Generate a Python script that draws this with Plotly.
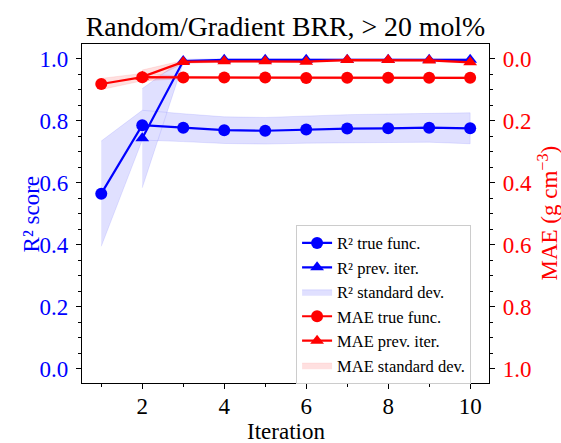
import plotly.graph_objects as go

# Iterations
iterations = [1, 2, 3, 4, 5, 6, 7, 8, 9, 10]

# R² against the true function, and its spread
r2_true = [0.565, 0.786, 0.778, 0.770, 0.768, 0.772, 0.775, 0.776, 0.778, 0.776]
r2_true_std = [0.17, 0.048, 0.045, 0.043, 0.043, 0.044, 0.045, 0.046, 0.047, 0.050]

# R² against the previous iteration (starts at iteration 2)
prev_iterations = [2, 3, 4, 5, 6, 7, 8, 9, 10]
r2_prev = [0.744, 0.993, 0.997, 0.997, 0.997, 0.997, 0.997, 0.997, 0.997]
r2_prev_std = [0.16, 0.006, 0.003, 0.003, 0.003, 0.003, 0.003, 0.003, 0.003]

# MAE (g cm^-3) against the true function and the previous iteration
mae_true = [0.081, 0.059, 0.060, 0.060, 0.060, 0.062, 0.061, 0.061, 0.061, 0.061]
mae_true_std = [0.018, 0.012, 0.004, 0.003, 0.003, 0.003, 0.003, 0.003, 0.003, 0.003]
mae_prev = [0.058, 0.010, 0.008, 0.008, 0.009, 0.004, 0.004, 0.005, 0.011]
mae_prev_std = [0.022, 0.005, 0.003, 0.003, 0.003, 0.003, 0.003, 0.003, 0.003]

x_ticks = [2, 4, 6, 8, 10]
y_ticks = [0.0, 0.2, 0.4, 0.6, 0.8, 1.0]

BLUE = "#0000ff"
RED = "#ff0000"
FONT = "Liberation Serif"


def band(xs, ys, sd):
    up = [y + s for y, s in zip(ys, sd)]
    lo = [y - s for y, s in zip(ys, sd)]
    return list(xs) + list(xs)[::-1], up + lo[::-1]


def bands(pairs):
    bx, by = [], []
    for xs, ys, sd in pairs:
        px, py = band(xs, ys, sd)
        if bx:
            bx.append(None)
            by.append(None)
        bx += px
        by += py
    return bx, by


fig = go.Figure()

r2_bx, r2_by = bands([(iterations, r2_true, r2_true_std),
                      (prev_iterations, r2_prev, r2_prev_std)])
mae_bx, mae_by = bands([(iterations, mae_true, mae_true_std),
                        (prev_iterations, mae_prev, mae_prev_std)])

fig.add_trace(go.Scatter(
    x=r2_bx, y=r2_by, mode="lines", fill="toself",
    fillcolor="rgba(0,0,255,0.12)", line=dict(width=0.8, color="rgba(0,0,255,0.12)"),
    name="R² standard dev.", legendrank=3, yaxis="y"))
fig.add_trace(go.Scatter(
    x=iterations, y=r2_true, mode="lines+markers",
    line=dict(color=BLUE, width=2.2), marker=dict(symbol="circle", size=12, color=BLUE),
    name="R² true func.", legendrank=1, yaxis="y"))
fig.add_trace(go.Scatter(
    x=prev_iterations, y=r2_prev, mode="lines+markers",
    line=dict(color=BLUE, width=2.2), marker=dict(symbol="triangle-up", size=12, color=BLUE),
    name="R² prev. iter.", legendrank=2, yaxis="y"))

fig.add_trace(go.Scatter(
    x=mae_bx, y=mae_by, mode="lines", fill="toself",
    fillcolor="rgba(255,0,0,0.12)", line=dict(width=0.8, color="rgba(255,0,0,0.12)"),
    name="MAE standard dev.", legendrank=6, yaxis="y2"))
fig.add_trace(go.Scatter(
    x=iterations, y=mae_true, mode="lines+markers",
    line=dict(color=RED, width=2.2), marker=dict(symbol="circle", size=12, color=RED),
    name="MAE true func.", legendrank=4, yaxis="y2"))
fig.add_trace(go.Scatter(
    x=prev_iterations, y=mae_prev, mode="lines+markers",
    line=dict(color=RED, width=2.2), marker=dict(symbol="triangle-up", size=12, color=RED),
    name="MAE prev. iter.", legendrank=5, yaxis="y2"))

# left axis range; the right (MAE) axis is the same span, flipped
yrange = [-0.046, 1.048]
y2range = [1.0 - yrange[0], 1.0 - yrange[1]]

axis_common = dict(
    ticks="outside", ticklen=5, tickcolor="black", showline=True,
    linecolor="black", linewidth=1.2, showgrid=False, zeroline=False,
    automargin=False,
)

# axis titles placed as annotations in paper coordinates
axis_titles = [
    dict(text="Iteration", x=0.5, y=-0.142, textangle=0, color="black"),
    dict(text="R² score", x=-0.123, y=0.5, textangle=-90, color=BLUE),
    dict(text="MAE (g cm<sup>−3</sup>)", x=1.145, y=0.5, textangle=-90, color=RED),
]

fig.update_layout(
    width=561, height=443,
    margin=dict(l=82, r=72, t=44, b=60),
    paper_bgcolor="white", plot_bgcolor="white",
    font=dict(family=FONT, size=22, color="black"),
    title=dict(text="Random/Gradient BRR, > 20 mol%", x=0.5, xref="paper",
               xanchor="center", y=0.919, yanchor="bottom",
               font=dict(size=27.8, color="black"), automargin=False),
    xaxis=dict(
        range=[0.53, 10.46], tickvals=x_ticks, mirror=True,
        minor=dict(dtick=1, tick0=1, ticks="outside", ticklen=3, tickcolor="black"),
        tickfont=dict(size=23), ticklabelstandoff=-3, **axis_common),
    yaxis=dict(
        range=yrange, tickvals=y_ticks, ticktext=[f"{v:.1f}" for v in y_ticks],
        minor=dict(dtick=0.05, tick0=0, ticks="outside", ticklen=3, tickcolor="black"),
        tickfont=dict(size=23, color=BLUE), ticklabelstandoff=3,
        **axis_common),
    yaxis2=dict(
        overlaying="y", side="right", range=y2range,
        tickvals=y_ticks, ticktext=[f"{v:.1f}" for v in y_ticks],
        minor=dict(dtick=0.05, tick0=0, ticks="outside", ticklen=3, tickcolor="black"),
        tickfont=dict(size=23, color=RED), ticklabelstandoff=3,
        **axis_common),
    annotations=[
        dict(text=t["text"], x=t["x"], y=t["y"], xref="paper", yref="paper",
             xanchor="center", yanchor="middle", textangle=t["textangle"],
             showarrow=False, font=dict(size=23, color=t["color"], family=FONT))
        for t in axis_titles
    ],
    legend=dict(
        x=0.526, y=-0.002, xanchor="left", yanchor="bottom",
        bgcolor="rgba(255,255,255,0.85)", bordercolor="#cccccc", borderwidth=1,
        font=dict(size=16.5, color="black"), tracegroupgap=0,
        traceorder="normal"),
    showlegend=True,
)

fig.write_html("out.html")
